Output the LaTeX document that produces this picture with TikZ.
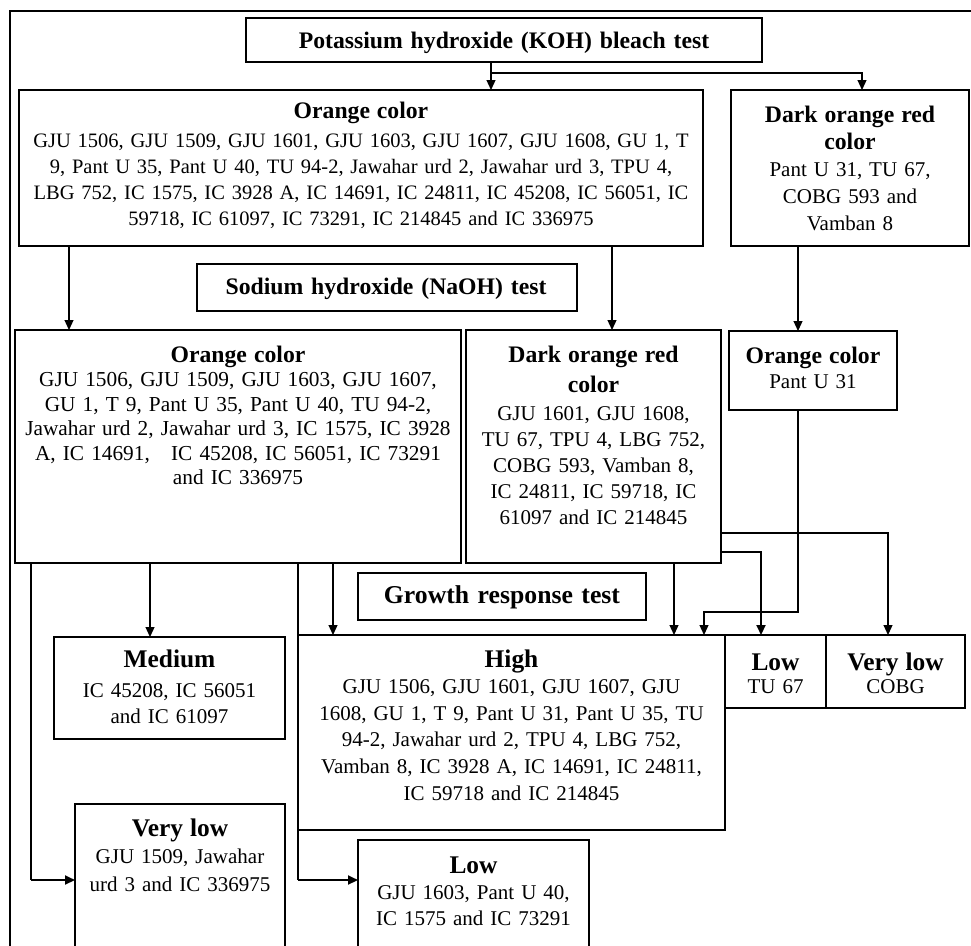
\documentclass[tikz,border=0pt]{standalone}
\usepackage{fontspec}
\setmainfont{Liberation Serif}
\usetikzlibrary{arrows.meta}
\newcommand\ttlA{\fontsize{23.7}{28}\selectfont\bfseries}
\newcommand\ttlB{\fontsize{25.4}{30}\selectfont\bfseries}
\newcommand\bodyfs[2]{\fontsize{#1}{#2}\selectfont}
\begin{document}
\begin{tikzpicture}[x=1pt,y=1pt,
  box/.style={draw, line width=1.2pt, inner sep=0pt, outer sep=0pt, anchor=north west},
  lbl/.style={inner sep=0pt, outer sep=0pt, align=center, anchor=base},
  arr/.style={line width=1.2pt, -{Triangle[length=10pt,width=9pt]}},
  arrthick/.style={line width=2pt, -{Triangle[length=10pt,width=9pt]}}]
\useasboundingbox (0,0) rectangle (971,-945);
\clip (0,0) rectangle (971,-945);
% frame
\draw[line width=1.2pt] (975,-11) -- (10,-11) -- (10,-950);
% boxes
\node[box, minimum width=516pt, minimum height=44pt] (koh) at (246,-18) {};
\node[box, minimum width=684pt, minimum height=156pt] (or1) at (19,-90) {};
\node[box, minimum width=238pt, minimum height=156pt] (dk1) at (731,-90) {};
\node[box, minimum width=380pt, minimum height=47pt] (naoh) at (197,-264) {};
\node[box, minimum width=446pt, minimum height=233pt] (or2) at (15,-330) {};
\node[box, minimum width=255pt, minimum height=233pt] (dk2) at (466,-330) {};
\node[box, minimum width=168pt, minimum height=79pt] (or3) at (729,-331) {};
\node[box, minimum width=288pt, minimum height=47pt] (grow) at (358,-573) {};
\node[box, minimum width=427pt, minimum height=195pt] (high) at (298,-635) {};
\node[box, minimum width=101pt, minimum height=73pt] (low2) at (725,-635) {};
\node[box, minimum width=139pt, minimum height=73pt] (vlow2) at (826,-635) {};
\node[box, minimum width=231pt, minimum height=102pt] (med) at (54,-637) {};
\node[box, minimum width=210pt, minimum height=150pt] (vlow) at (75,-804) {};
\node[box, minimum width=231pt, minimum height=115pt] (low) at (358,-840) {};
% texts
\node[lbl, text width=560pt, font=\ttlA] (kohT) at (504,-48) {Potassium hydroxide (KOH) bleach test};
\node[lbl, text width=720pt, font=\bodyfs{20.5}{26}] (or1T) at (361,-118) {{\ttlA Orange color}\\[3pt]
GJU 1506, GJU 1509, GJU 1601, GJU 1603, GJU 1607, GJU 1608, GU 1, T\\
9, Pant U 35, Pant U 40, TU 94-2, Jawahar urd 2, Jawahar urd 3, TPU 4,\\
LBG 752, IC 1575, IC 3928 A, IC 14691, IC 24811, IC 45208, IC 56051, IC\\
59718, IC 61097, IC 73291, IC 214845 and IC 336975};
\node[lbl, text width=270pt, font=\bodyfs{21}{27}] (dk1T) at (850,-122) {{\ttlA Dark orange red\\ color}\\
Pant U 31, TU 67,\\ COBG 593 and\\ Vamban 8};
\node[lbl, text width=420pt, font=\ttlA] (naohT) at (386,-294) {Sodium hydroxide (NaOH) test};
\node[lbl, text width=480pt, font=\bodyfs{21.3}{24.5}] (or2T) at (238,-362) {{\ttlA Orange color}\\
GJU 1506, GJU 1509, GJU 1603, GJU 1607,\\
GU 1, T 9, Pant U 35, Pant U 40, TU 94-2,\\
Jawahar urd 2, Jawahar urd 3, IC 1575, IC 3928\\
A, IC 14691,\ \ \ IC 45208, IC 56051, IC 73291\\
and IC 336975};
\node[lbl, text width=290pt, font=\bodyfs{21}{26}] (dk2T) at (593.5,-362) {{\ttlA Dark orange red\\[4pt] color}\\[2pt]
GJU 1601, GJU 1608,\\ TU 67, TPU 4, LBG 752,\\ COBG 593, Vamban 8,\\ IC 24811, IC 59718, IC\\ 61097 and IC 214845};
\node[lbl, text width=200pt, font=\bodyfs{21}{25}] (or3T) at (813,-363) {{\ttlA Orange color}\\ Pant U 31};
\node[lbl, text width=320pt, font=\fontsize{25.7}{30}\selectfont\bfseries] (growT) at (502,-603) {Growth response test};
\node[lbl, text width=460pt, font=\bodyfs{21}{26.6}] (highT) at (511.5,-667) {{\ttlB High}\\
GJU 1506, GJU 1601, GJU 1607, GJU\\
1608, GU 1, T 9, Pant U 31, Pant U 35, TU\\
94-2, Jawahar urd 2, TPU 4, LBG 752,\\
Vamban 8, IC 3928 A, IC 14691, IC 24811,\\
IC 59718 and IC 214845};
\node[lbl, text width=130pt, font=\bodyfs{21}{23}] (low2T) at (775.5,-670) {{\ttlB Low}\\ TU 67};
\node[lbl, text width=160pt, font=\bodyfs{21}{23}] (vlow2T) at (895.5,-670) {{\ttlB Very low}\\ COBG};
\node[lbl, text width=260pt, font=\bodyfs{21}{26}] (medT) at (169.5,-667) {{\ttlB Medium}\\[4pt] IC 45208, IC 56051\\ and IC 61097};
\node[lbl, text width=240pt, font=\bodyfs{21}{27.5}] (vlowT) at (180,-836) {{\ttlB Very low}\\ GJU 1509, Jawahar\\ urd 3 and IC 336975};
\node[lbl, text width=260pt, font=\bodyfs{21}{26}] (lowT) at (473.5,-873) {{\ttlB Low}\\ GJU 1603, Pant U 40,\\ IC 1575 and IC 73291};
% connectors
\draw[arr] ([xshift=245pt]koh.south west) -- ([xshift=472pt]or1.north west);
\draw[arr] ([xshift=245pt,yshift=-11pt]koh.south west) -| ([xshift=131pt]dk1.north west);
\draw[arr] ([xshift=50pt]or1.south west) -- ([xshift=54pt]or2.north west);
\draw[arr] ([xshift=593pt]or1.south west) -- ([xshift=146pt]dk2.north west);
\draw[arr] ([xshift=67pt]dk1.south west) -- ([xshift=69pt]or3.north west);
\draw[line width=1.2pt] ([xshift=16pt]or2.south west) |- ([xshift=-44pt,yshift=-76pt]vlow.north west);
\draw[arrthick] ([xshift=-44pt,yshift=-76pt]vlow.north west) -- ([yshift=-76pt]vlow.north west);
\draw[arr] ([xshift=135pt]or2.south west) -- ([xshift=96pt]med.north west);
\draw[line width=1.2pt] ([xshift=283pt]or2.south west) |- ([xshift=-60pt,yshift=-40pt]low.north west);
\draw[arrthick] ([xshift=-60pt,yshift=-40pt]low.north west) -- ([yshift=-40pt]low.north west);
\draw[arr] ([xshift=318pt]or2.south west) -- ([xshift=35pt]high.north west);
\draw[arr] ([xshift=208pt]dk2.south west) -- ([xshift=376pt]high.north west);
\draw[arr] ([yshift=-203pt]dk2.north east) -| ([xshift=62pt]vlow2.north west);
\draw[arrthick] ([yshift=-222pt]dk2.north east) -| ([xshift=36pt]low2.north west);
\draw[arr] ([xshift=69pt]or3.south west) -- ([xshift=69pt,yshift=-202pt]or3.south west) -| ([xshift=406pt]high.north west);
\end{tikzpicture}
\end{document}
